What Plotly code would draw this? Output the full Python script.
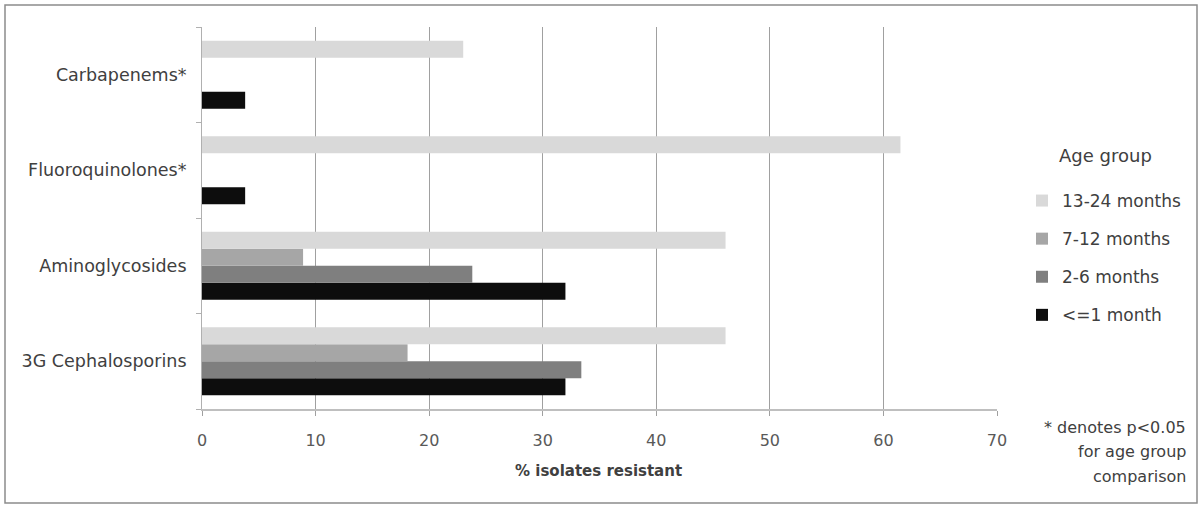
import plotly.graph_objects as go

# Data (categories listed bottom-to-top for the horizontal axis)
categories = ["3G Cephalosporins", "Aminoglycosides", "Fluoroquinolones*", "Carbapenems*"]
le1_month = [32.0, 32.0, 3.8, 3.8]
m2_6 = [33.4, 23.8, None, None]
m7_12 = [18.1, 8.9, None, None]
m13_24 = [46.1, 46.1, 61.5, 23.0]

series_names = ["<=1 month", "2-6 months", "7-12 months", "13-24 months"]
series_values = [le1_month, m2_6, m7_12, m13_24]
series_colors = ["#0d0d0d", "#7f7f7f", "#a6a6a6", "#d9d9d9"]
legend_ranks = [4, 3, 2, 1]

x_ticks = [0, 10, 20, 30, 40, 50, 60, 70]

W, H = 1203, 508
L, R, T, B = 202, 206, 27, 99
pw, ph = W - L - R, H - T - B


def px(x):
    return (x - L) / pw


def py(y):
    return (H - B - y) / ph


FONT = "DejaVu Sans"

fig = go.Figure()
for name, vals, col, rk in zip(series_names, series_values, series_colors, legend_ranks):
    fig.add_trace(go.Bar(
        y=categories, x=vals, name=name, orientation="h",
        marker=dict(color=col, line=dict(width=0)),
        legendgroup=name, legendrank=rk,
    ))

fig.update_layout(
    width=W, height=H,
    margin=dict(l=L, r=R, t=T, b=B, autoexpand=False),
    paper_bgcolor="white", plot_bgcolor="white",
    barmode="group", bargap=0.29, bargroupgap=0,
    font=dict(family=FONT, color="#404040"),
    showlegend=True,
    legend=dict(
        x=px(1022), y=py(183), xanchor="left", yanchor="top",
        traceorder="grouped", tracegroupgap=13,
        font=dict(family=FONT, size=17, color="#404040"),
        bgcolor="rgba(0,0,0,0)", itemwidth=30,
    ),
    xaxis=dict(
        range=[0, 70], tickvals=x_ticks, showgrid=True,
        gridcolor="#a0a0a0", gridwidth=1, zeroline=False,
        showline=True, linecolor="#bfbfbf", linewidth=2,
        ticks="outside", ticklen=5, tickcolor="#a0a0a0",
        tickfont=dict(family=FONT, size=16, color="#595959"),
        ticklabelstandoff=11,
    ),
    yaxis=dict(
        type="category", categoryorder="array", categoryarray=categories,
        range=[-0.5, 3.5], showgrid=False, zeroline=False,
        showline=True, linecolor="#b0b0b0", linewidth=1,
        ticks="outside", ticklen=5, tickcolor="#b0b0b0", tickson="boundaries",
        tickfont=dict(family=FONT, size=17.5, color="#404040"),
        ticklabelstandoff=11,
    ),
)

# Outer border
fig.add_shape(type="rect", xref="paper", yref="paper",
              x0=px(5), x1=px(1197), y0=py(503), y1=py(5),
              line=dict(color="#8c8c8c", width=1.5), fillcolor="rgba(0,0,0,0)", layer="below")

# Axis title
fig.add_annotation(text="<b>% isolates resistant</b>", xref="paper", yref="paper",
                   x=px(598), y=py(471), xanchor="center", yanchor="middle", showarrow=False,
                   font=dict(family=FONT, size=15, color="#404040"))

# Legend title
fig.add_annotation(text="Age group", xref="paper", yref="paper",
                   x=px(1057), y=py(155), xanchor="left", yanchor="middle", showarrow=False,
                   font=dict(family=FONT, size=18, color="#404040"))

# Footnote
foot_lines = ["* denotes p<0.05", "for age group", "comparison"]
foot_y = [427, 451, 476]
for t, yy in zip(foot_lines, foot_y):
    fig.add_annotation(text=t, xref="paper", yref="paper",
                       x=px(1188), y=py(yy), xanchor="right", yanchor="middle", showarrow=False,
                       font=dict(family=FONT, size=16, color="#404040"))

fig.write_html("out.html", config={"displayModeBar": False},
               post_script="document.body.style.margin='0';document.body.style.overflow='hidden';")
